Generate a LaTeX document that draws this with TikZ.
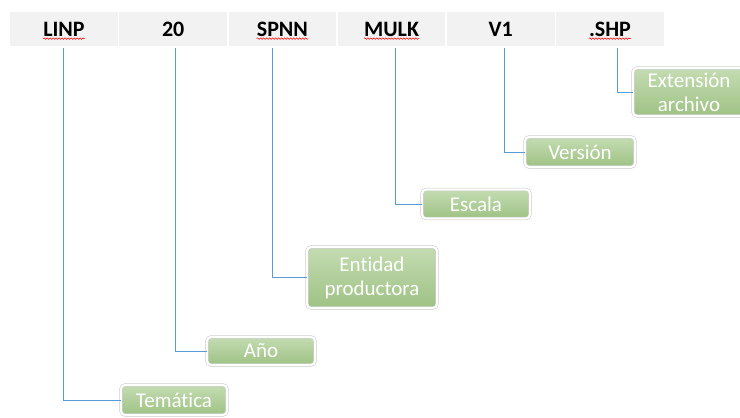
\documentclass[tikz,border=0pt]{standalone}
\usepackage{fontspec}
\setmainfont{Carlito}[Ligatures=NoCommon]
\usetikzlibrary{shadows,decorations.pathmorphing}
\definecolor{griscelda}{RGB}{242,242,242}
\definecolor{azullinea}{RGB}{91,155,213}
\definecolor{verdeclaro}{RGB}{196,220,178}
\definecolor{verdeoscuro}{RGB}{158,194,132}

\begin{document}
\begin{tikzpicture}[x=1pt,y=-1pt,
	celda/.style={fill=griscelda, minimum width=107.5pt, minimum height=34pt, inner sep=0pt},
	cod/.style={font=\fontsize{22}{24}\selectfont\bfseries, inner sep=0pt},
	caja/.style={rounded corners=4pt, draw=black!22, line width=0.5pt, double=white, double distance=2.2pt, top color=verdeclaro, bottom color=verdeoscuro, text=white, font=\fontsize{21}{24}\selectfont, align=center, inner sep=1pt, drop shadow={opacity=0.3, shadow xshift=0.8pt, shadow yshift=-1.2pt}},
	conn/.style={draw=azullinea, line width=0.9pt, shorten <=2pt},
	ortografia/.style={draw=red, line width=0.5pt, decorate, decoration={snake, segment length=3pt, amplitude=0.8pt}}]
		\useasboundingbox (0,0) rectangle (740,418);
		
		\node[celda] (c1) at (64,29) {};
		\node[celda] (c2) at (173.2,29) {};
		\node[celda] (c3) at (282.4,29) {};
		\node[celda] (c4) at (391.6,29) {};
		\node[celda] (c5) at (500.8,29) {};
		\node[celda] (c6) at (610,29) {};
		
		\node[cod] (linp) at (c1) {LINP};
		\node[cod] (veinte) at (c2) {20};
		\node[cod] (spnn) at (c3) {SPNN};
		\node[cod] (mulk) at (c4) {MULK};
		\node[cod] (vuno) at (c5) {V1};
		\node[cod] (shp) at (c6) {.SHP};
		
		\draw[ortografia] ([yshift=-2.5pt]linp.base west) -- ([yshift=-2.5pt]linp.base east);
		\draw[ortografia] ([yshift=-2.5pt]spnn.base west) -- ([yshift=-2.5pt]spnn.base east);
		\draw[ortografia] ([yshift=-2.5pt]mulk.base west) -- ([yshift=-2.5pt]mulk.base east);
		\draw[ortografia] ([yshift=-2.5pt]shp.base west) -- ([yshift=-2.5pt]shp.base east);
		
		\node[caja, minimum width=106pt, minimum height=30pt] (tema) at (174,400) {Temática};
		\node[caja, minimum width=108pt, minimum height=28pt] (anio) at (261,351) {Año};
		\node[caja, minimum width=130pt, minimum height=61pt] (entidad) at (372,277.5) {Entidad\\productora};
		\node[caja, minimum width=108pt, minimum height=29pt] (escala) at (476,204) {Escala};
		\node[caja, minimum width=110pt, minimum height=30pt] (version) at (580,152) {Versión};
		\node[caja, minimum width=112pt, minimum height=48pt] (extension) at (689,92) {Extensión\\archivo};
		
		\draw[conn] ([xshift=-1pt]c1.south) |- (tema.west);
		\draw[conn] ([xshift=1.8pt]c2.south) |- (anio.west);
		\draw[conn] ([xshift=-10.4pt]c3.south) |- (entidad.west);
		\draw[conn] ([xshift=3.4pt]c4.south) |- (escala.west);
		\draw[conn] ([xshift=3.2pt]c5.south) |- (version.west);
		\draw[conn] ([xshift=7pt]c6.south) |- (extension.west);
\end{tikzpicture}
\end{document}
